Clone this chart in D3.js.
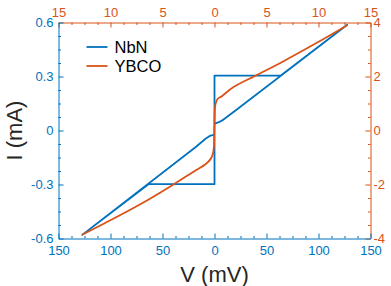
<!DOCTYPE html>
<html>
<head>
<meta charset="utf-8">
<script src="https://cdn.jsdelivr.net/npm/d3@7"></script>
<style>
    html, body { margin: 0; padding: 0; background: #fff; }
</style>
</head>
<body>
<div id="chart"></div>
<script>
// NbN junction, bottom (mV) / left (mA) axes
const nbnV = [0, 0, 63.5, 127.6, 20.2, 7.4, 4.1, 1.0, 0, 0, -63.2, -127.2, -18.3, -8.65, -3.85, -0.7, 0];
const nbnI = [-0.022, 0.305, 0.305, 0.587, 0.111, 0.056, 0.046, 0.04, 0.036, -0.298, -0.298, -0.58, -0.093, -0.046, -0.028, -0.024, -0.022];

// YBCO junction, top (mV) / right (mA) axes
const ybcoV = [-12.72, -9.6, -6.45, -3.9, -1.83, -0.87, -0.38, -0.16, -0.06, -0.02, 0.03, 0.08, 0.26, 0.74, 1.8, 3.94, 6.51, 9.71, 12.76];
const ybcoI = [-3.86, -3.24, -2.58, -1.99, -1.48, -1.25, -1.06, -0.87, -0.62, 0.0, 0.75, 0.95, 1.15, 1.28, 1.6, 2.03, 2.54, 3.22, 3.9];

const seriesNames = ["NbN", "YBCO"];

const bottomTicks = [-150, -100, -50, 0, 50, 100, 150];
const topTicks = [-15, -10, -5, 0, 5, 10, 15];
const leftTicks = [-0.6, -0.3, 0, 0.3, 0.6];
const rightTicks = [-4, -2, 0, 2, 4];

const xLabel = "V (mV)";
const yLabel = "I (mA)";

class Chart {
    constructor() {
        const attrs = {
            container: "#chart",
            svgWidth: 391,
            svgHeight: 286,
            marginTop: 22,
            marginBottom: 48,
            marginLeft: 58,
            marginRight: 21,
            blue: "#0072BD",
            orange: "#D95319",
            labelColor: "#262626",
            defaultFont: "'Liberation Sans', Arial, Helvetica, sans-serif"
        };
        this.getState = () => attrs;
        this.setState = (d) => Object.assign(attrs, d);
    }

    render() {
        this.calculateProperties();
        this.drawSvg();
        this.drawAxes();
        this.drawLines();
        this.drawLegend();
        return this;
    }

    calculateProperties() {
        const { svgWidth, svgHeight, marginTop, marginBottom, marginLeft, marginRight } = this.getState();
        const chartWidth = svgWidth - marginLeft - marginRight;
        const chartHeight = svgHeight - marginTop - marginBottom;

        const xBottom = d3.scaleLinear().domain([-150, 150]).range([0, chartWidth]);
        const xTop = d3.scaleLinear().domain([-15, 15]).range([0, chartWidth]);
        const yLeft = d3.scaleLinear().domain([-0.6, 0.6]).range([chartHeight, 0]);
        const yRight = d3.scaleLinear().domain([-4, 4]).range([chartHeight, 0]);

        this.setState({ chartWidth, chartHeight, xBottom, xTop, yLeft, yRight });
    }

    drawSvg() {
        const { container, svgWidth, svgHeight, marginLeft, marginTop, defaultFont } = this.getState();
        const svg = d3.select(container).append("svg")
            .attr("width", svgWidth)
            .attr("height", svgHeight)
            .attr("font-family", defaultFont);

        const chart = svg.append("g")
            .attr("transform", `translate(${marginLeft + 0.5},${marginTop + 0.5})`);

        this.setState({ svg, chart });
    }

    // minor ticks: 4 steps between majors
    minorValues(ticks) {
        const step = (ticks[1] - ticks[0]) / 4;
        const out = [];
        for (let i = 0; i < ticks.length - 1; i++) {
            for (let k = 1; k < 4; k++) out.push(ticks[i] + k * step);
        }
        return out;
    }

    addAxis(axisFn, scale, ticks, color, transform, fmt, padding) {
        const { chart } = this.getState();
        const g = chart.append("g").attr("transform", transform);

        g.call(axisFn(scale).tickValues(this.minorValues(ticks)).tickFormat("").tickSize(-2.5).tickSizeOuter(0))
            .call(s => s.select(".domain").remove());

        const major = chart.append("g").attr("transform", transform)
            .call(axisFn(scale).tickValues(ticks).tickFormat(fmt).tickSize(-5).tickSizeOuter(0).tickPadding(padding));

        [g, major].forEach(s => {
            s.selectAll("path, line").attr("stroke", color).attr("stroke-width", 1);
            s.selectAll("text").attr("fill", color).attr("font-size", 13);
        });
        return major;
    }

    drawAxes() {
        const { chart, chartWidth, chartHeight, xBottom, xTop, yLeft, yRight, blue, orange, labelColor, marginLeft } = this.getState();

        this.addAxis(d3.axisTop, xTop, topTicks, orange, "translate(0,0)", d => String(Math.abs(d)), 6);
        this.addAxis(d3.axisRight, yRight, rightTicks, orange, `translate(${chartWidth},0)`, d => String(d), 3);
        this.addAxis(d3.axisBottom, xBottom, bottomTicks, blue, `translate(0,${chartHeight})`, d => String(Math.abs(d)), 7);
        this.addAxis(d3.axisLeft, yLeft, leftTicks, blue, "translate(0,0)", d => String(d), 5);

        chart.append("text")
            .attr("x", chartWidth / 2)
            .attr("y", chartHeight + 43)
            .attr("text-anchor", "middle")
            .attr("font-size", 22)
            .attr("fill", labelColor)
            .text(xLabel);

        chart.append("text")
            .attr("transform", `translate(${-marginLeft + 21},${chartHeight / 2}) rotate(-90)`)
            .attr("text-anchor", "middle")
            .attr("font-size", 22)
            .attr("fill", labelColor)
            .text(yLabel);
    }

    drawLines() {
        const { chart, xBottom, xTop, yLeft, yRight, blue, orange } = this.getState();

        const nbn = nbnV.map((v, i) => [v, nbnI[i]]);
        const ybco = ybcoV.map((v, i) => [v, ybcoI[i]]);

        const nbnLine = d3.line().x(d => xBottom(d[0])).y(d => yLeft(d[1]));
        const ybcoLine = d3.line().curve(d3.curveCatmullRom.alpha(0.5)).x(d => xTop(d[0])).y(d => yRight(d[1]));

        chart.append("path")
            .attr("d", nbnLine(nbn))
            .attr("fill", "none")
            .attr("stroke", blue)
            .attr("stroke-width", 1.8)
            .attr("stroke-linejoin", "round");

        chart.append("path")
            .attr("d", ybcoLine(ybco))
            .attr("fill", "none")
            .attr("stroke", orange)
            .attr("stroke-width", 1.8)
            .attr("stroke-linejoin", "round");
    }

    drawLegend() {
        const { chart, blue, orange } = this.getState();
        const colors = [blue, orange];

        const item = chart.append("g")
            .attr("transform", "translate(28,24.5)")
            .selectAll("g")
            .data(seriesNames)
            .join("g")
            .attr("transform", (d, i) => `translate(0,${i * 19})`);

        item.append("line")
            .attr("x1", 0).attr("x2", 21)
            .attr("stroke", (d, i) => colors[i])
            .attr("stroke-width", 1.8);

        item.append("text")
            .attr("x", 28)
            .attr("y", 6)
            .attr("font-size", 16.5)
            .attr("fill", "#000")
            .text(d => d);
    }
}

new Chart().render();
</script>
</body>
</html>
